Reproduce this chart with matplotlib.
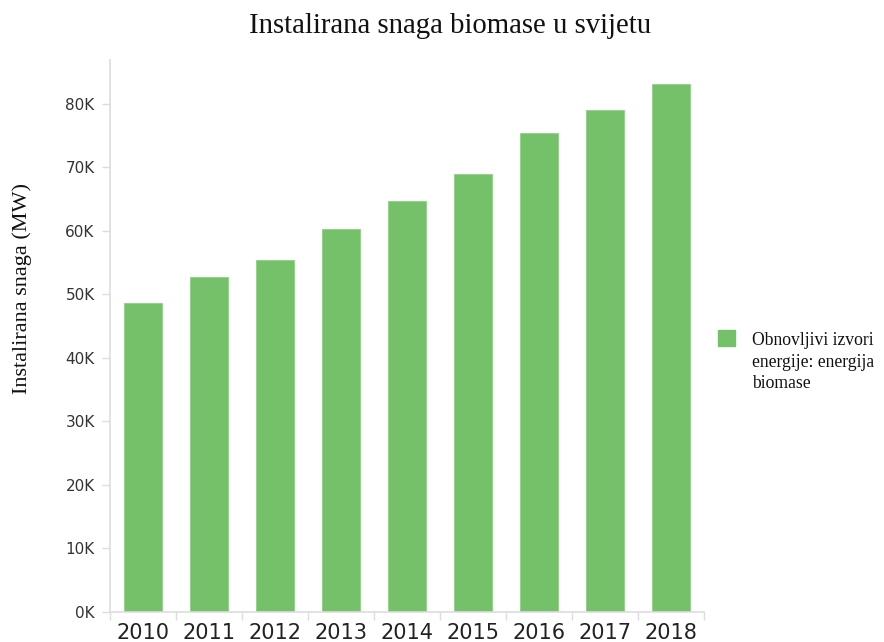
import matplotlib
matplotlib.use("Agg")
import matplotlib.pyplot as plt
from matplotlib.ticker import FuncFormatter

# Podaci
godine = ["2010", "2011", "2012", "2013", "2014", "2015", "2016", "2017", "2018"]
snaga = [48600, 52700, 55400, 60300, 64700, 68900, 75400, 79000, 83100]

BOJA = "#75c16a"
SIVA = "#dddddd"

fig = plt.figure(figsize=(8.84, 6.42), dpi=100)
ax = fig.add_axes([0.1244, 0.0467, 0.672, 0.8598])

x = range(len(godine))
ax.bar(x, snaga, width=0.58, color=BOJA, edgecolor="#8fd086", linewidth=0.6, zorder=2)

ax.set_xlim(-0.5, len(godine) - 0.5)
ax.set_ylim(0, 86900)

# y os
ax.set_yticks(range(0, 80001, 10000))
ax.yaxis.set_major_formatter(FuncFormatter(lambda v, p: f"{int(v / 1000)}K"))
ax.tick_params(axis="y", length=6, width=1, color=SIVA, pad=5,
               labelsize=11, labelcolor="#333333")

# x os - oznake godina ispod stupaca, crtice između
ax.set_xticks(list(x))
ax.set_xticklabels(godine)
ax.set_xticks([i - 0.5 for i in range(len(godine) + 1)], minor=True)
ax.tick_params(axis="x", which="major", length=0, pad=8,
               labelsize=15, labelcolor="#222222")
ax.tick_params(axis="x", which="minor", length=6, width=1, color=SIVA)

for s in ["top", "right"]:
    ax.spines[s].set_visible(False)
for s in ["left", "bottom"]:
    ax.spines[s].set_color(SIVA)
    ax.spines[s].set_linewidth(1.2)

serif = "Liberation Serif"

fig.text(0.509, 1 - 26 / 642, "Instalirana snaga biomase u svijetu",
         ha="center", va="center", fontsize=20.7, family=serif, color="#111111")
fig.text(22 / 884, 1 - 289 / 642, "Instalirana snaga (MW)", rotation=90,
         ha="center", va="center", fontsize=16, family=serif, color="#111111")

# Legenda
fig.patches.append(plt.Rectangle((718 / 884, 1 - 346 / 642), 17 / 884, 16 / 642,
                                 transform=fig.transFigure, color=BOJA,
                                 figure=fig))
redovi = ["Obnovljivi izvori", "energije: energija", "biomase"]
for i, red in enumerate(redovi):
    fig.text(752 / 884, 1 - (345 + 21.7 * i) / 642, red,
             ha="left", va="baseline", fontsize=12.7, family=serif,
             color="#111111")

fig.savefig("out.png", dpi=100)
